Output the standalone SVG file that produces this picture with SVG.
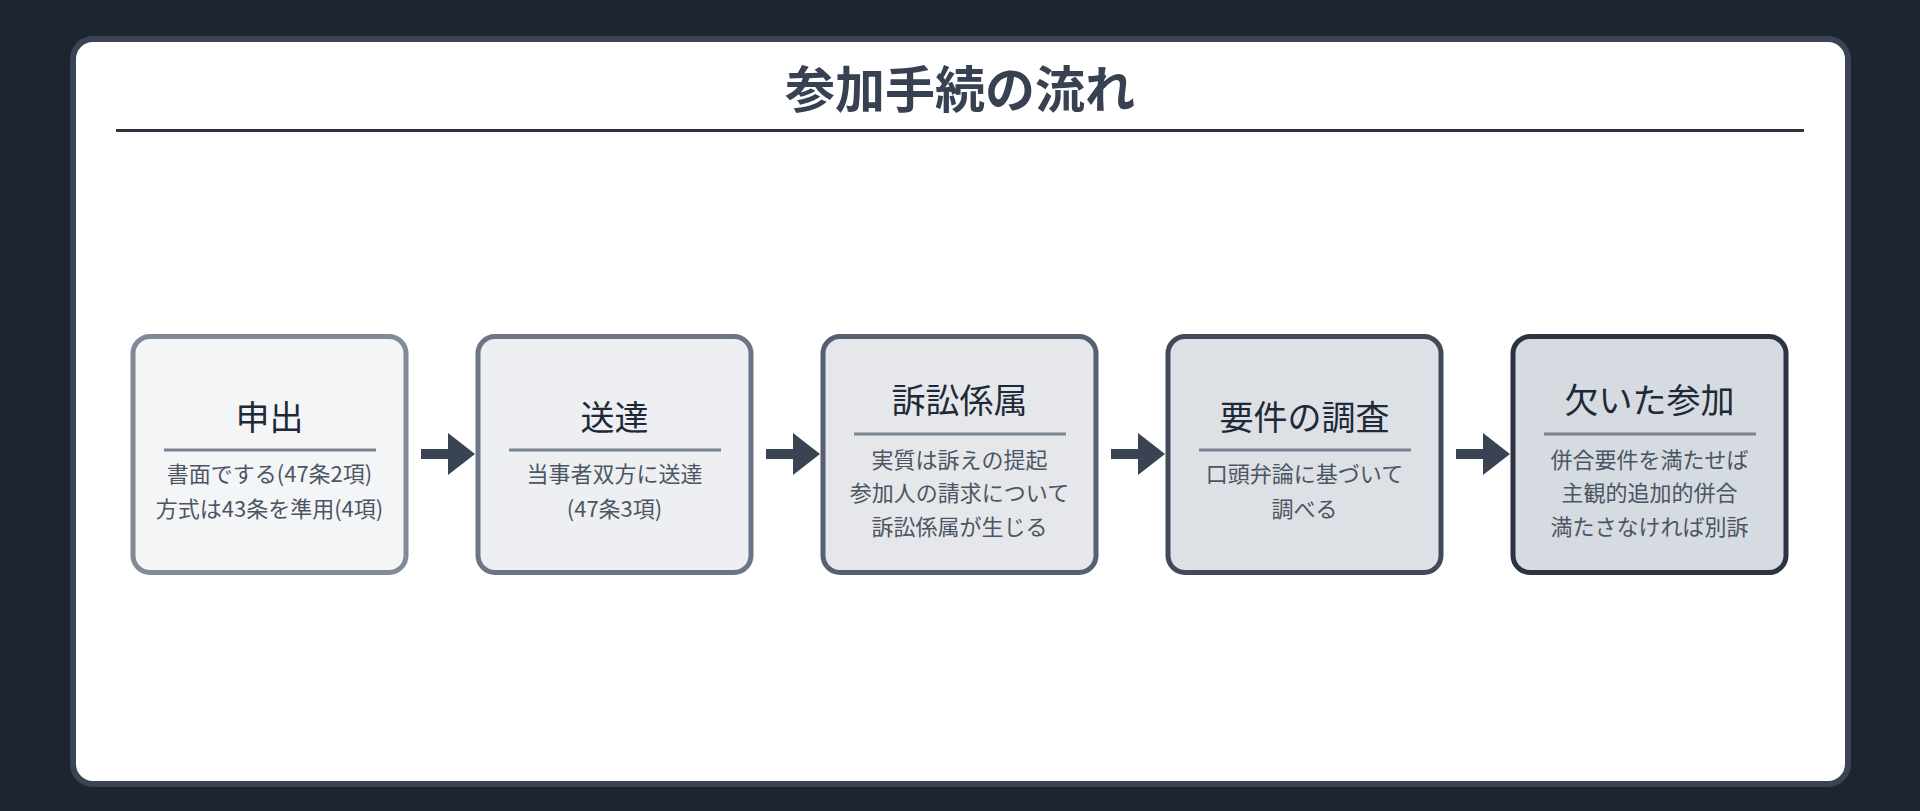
<svg xmlns="http://www.w3.org/2000/svg" width="1920" height="811" viewBox="0 0 1920 811">
<defs>
<style>
.jp{font-family:"Noto Sans CJK JP","Noto Sans CJK SC",sans-serif;}
.ttl{font-size:50px;font-weight:700;fill:#374151;text-anchor:middle;dominant-baseline:central;}
.nt{font-size:34px;fill:#1f2937;text-anchor:middle;dominant-baseline:central;}
.ns{font-size:22px;fill:#4b5563;text-anchor:middle;dominant-baseline:central;}
.dv{stroke:#7a8391;stroke-width:3;}
.conn{stroke:#3a4352;stroke-width:10;fill:none;marker-end:url(#ah);}
</style>
<marker id="ah" markerUnits="userSpaceOnUse" markerWidth="28" markerHeight="44" refX="2" refY="21" orient="auto" viewBox="0 0 28 44">
<path d="M0,0 L27,21 L0,42 Z" fill="#3a4352"/>
</marker>
</defs>
<rect x="0" y="0" width="1920" height="811" fill="#1e2530"/>
<rect x="73" y="39" width="1775" height="745" rx="20" ry="20" fill="#ffffff" stroke="#3b4454" stroke-width="6"/>
<g id="title">
<text class="jp ttl" x="960" y="86">参加手続の流れ</text>
<line x1="116" y1="130.5" x2="1804" y2="130.5" stroke="#2d3440" stroke-width="3"/>
</g>
<g id="connectors">
<line class="conn" x1="421" y1="454" x2="450" y2="454"/>
<line class="conn" x1="766" y1="454" x2="795" y2="454"/>
<line class="conn" x1="1111" y1="454" x2="1140" y2="454"/>
<line class="conn" x1="1456" y1="454" x2="1485" y2="454"/>
</g>
<g id="node1">
<rect x="133" y="336.5" width="273" height="236" rx="17" fill="#f4f5f7" stroke="#818a99" stroke-width="5"/>
<text class="jp nt" x="269.5" y="415">申出</text>
<line class="dv" x1="164" y1="450" x2="376" y2="450"/>
<text class="jp ns" x="269.5" y="472">書面でする(47条2項)</text>
<text class="jp ns" x="269.5" y="506.5">方式は43条を準用(4項)</text>
</g>
<g id="node2">
<rect x="478" y="336.5" width="273" height="236" rx="17" fill="#edeff2" stroke="#6b7585" stroke-width="5"/>
<text class="jp nt" x="614.5" y="415">送達</text>
<line class="dv" x1="509" y1="450" x2="721" y2="450"/>
<text class="jp ns" x="614.5" y="472">当事者双方に送達</text>
<text class="jp ns" x="614.5" y="506.5">(47条3項)</text>
</g>
<g id="node3">
<rect x="823" y="336.5" width="273" height="236" rx="17" fill="#e5e7eb" stroke="#566070" stroke-width="5"/>
<text class="jp nt" x="959.5" y="398">訴訟係属</text>
<line class="dv" x1="854" y1="434" x2="1066" y2="434"/>
<text class="jp ns" x="959.5" y="457.5">実質は訴えの提起</text>
<text class="jp ns" x="959.5" y="491">参加人の請求について</text>
<text class="jp ns" x="959.5" y="524.5">訴訟係属が生じる</text>
</g>
<g id="node4">
<rect x="1168" y="336.5" width="273" height="236" rx="17" fill="#dde0e5" stroke="#414a59" stroke-width="5"/>
<text class="jp nt" x="1304.5" y="415">要件の調査</text>
<line class="dv" x1="1199" y1="450" x2="1411" y2="450"/>
<text class="jp ns" x="1304.5" y="472">口頭弁論に基づいて</text>
<text class="jp ns" x="1304.5" y="506.5">調べる</text>
</g>
<g id="node5">
<rect x="1513" y="336.5" width="273" height="236" rx="17" fill="#d6dae1" stroke="#2c3441" stroke-width="5"/>
<text class="jp nt" x="1649.5" y="398">欠いた参加</text>
<line class="dv" x1="1544" y1="434" x2="1756" y2="434"/>
<text class="jp ns" x="1649.5" y="457.5">併合要件を満たせば</text>
<text class="jp ns" x="1649.5" y="491">主観的追加的併合</text>
<text class="jp ns" x="1649.5" y="524.5">満たさなければ別訴</text>
</g>
</svg>
